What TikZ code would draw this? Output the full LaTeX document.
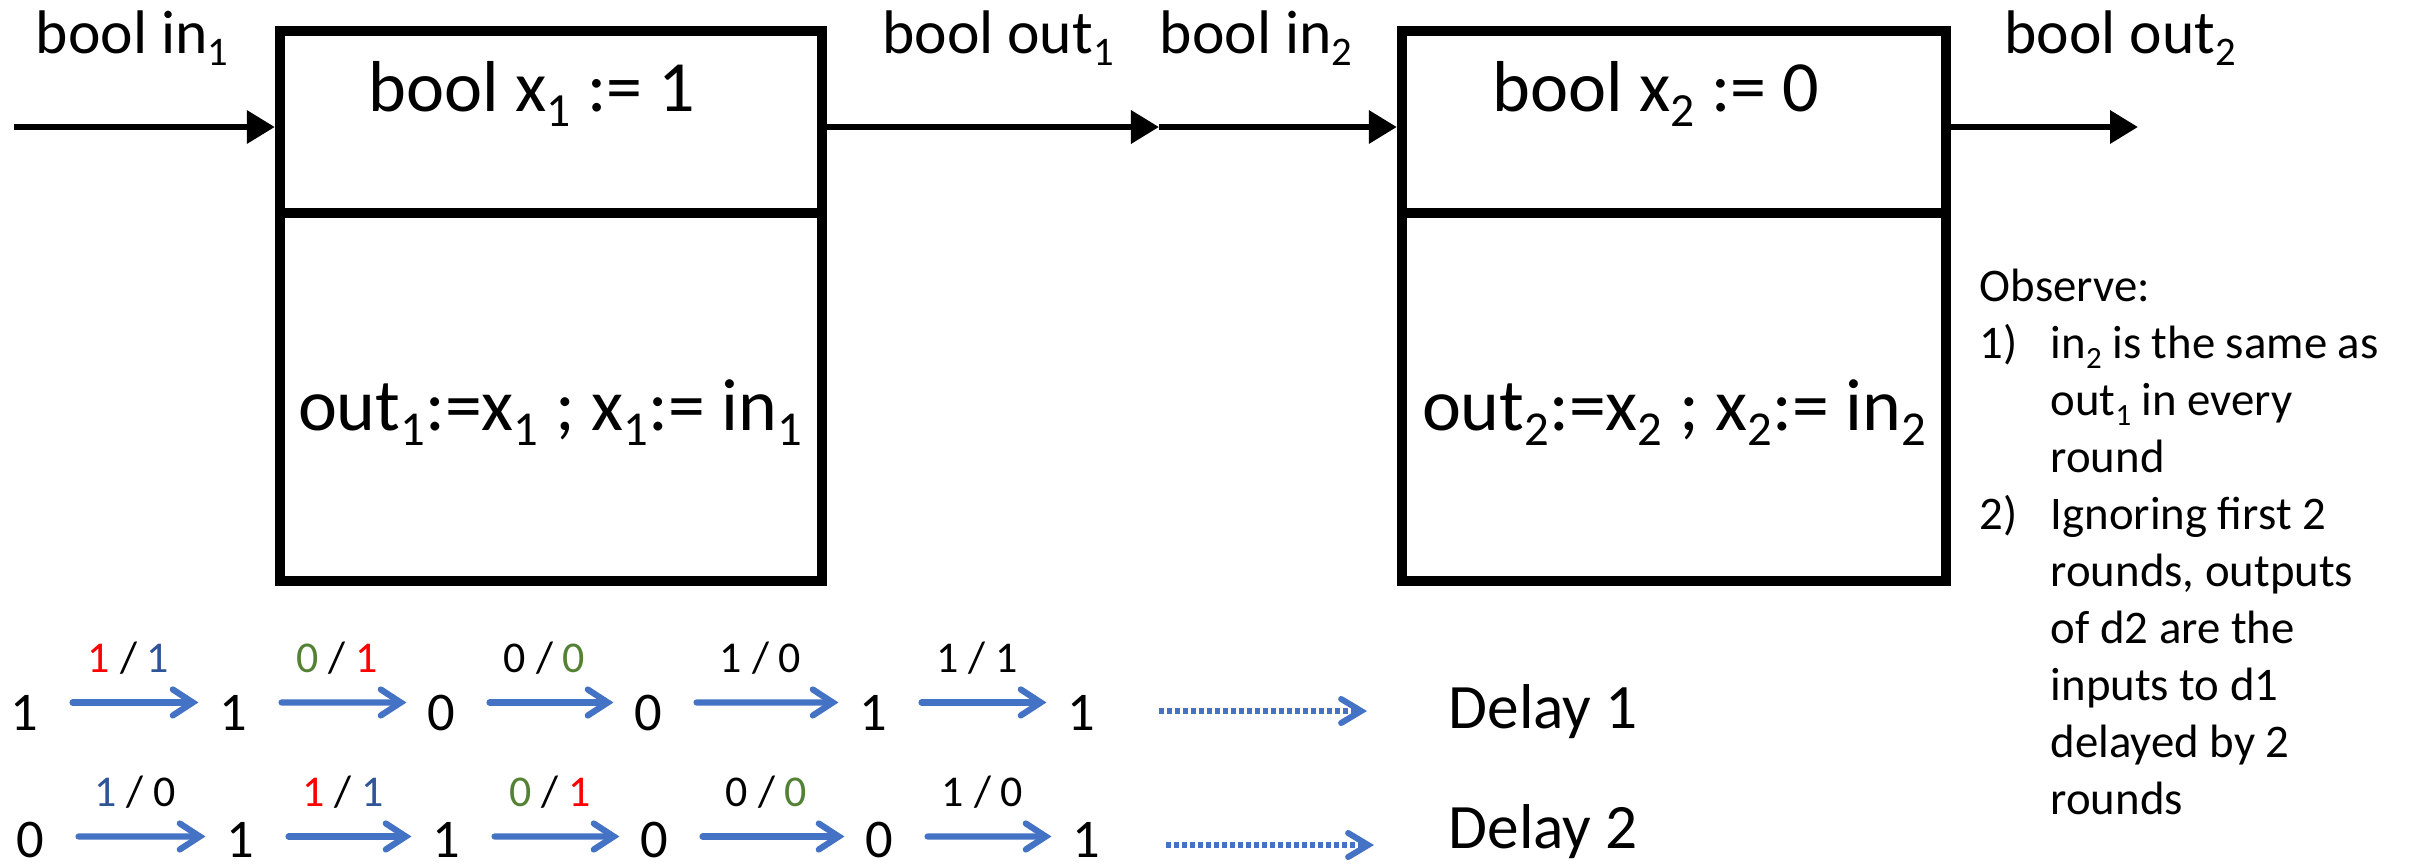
\documentclass[tikz,border=0pt]{standalone}
\usepackage{fontspec}
\setmainfont{Carlito}
\usepackage{graphicx}
\usepackage{tikz}
\usetikzlibrary{arrows.meta,positioning}
\definecolor{arrowblue}{HTML}{4472C4}
\definecolor{valblue}{HTML}{2F5597}
\definecolor{valgreen}{HTML}{548235}
\definecolor{valred}{HTML}{FF0000}
\newcommand{\ix}[1]{\raisebox{-0.21em}{\scalebox{0.66}{#1}}}
\newcommand{\itemno}[1]{\makebox[0.71cm][l]{#1}}
\newcommand{\hang}{\hspace*{0.71cm}}

\begin{document}
\begin{tikzpicture}[
  x=0.01cm, y=-0.01cm,
  every node/.style={inner sep=0pt},
  box/.style={draw, line width=0.1cm, minimum width=5.42cm},
  lbl/.style={anchor=base, font=\fontsize{17.5}{20}\selectfont},
  big/.style={anchor=base, font=\fontsize{20.5}{24}\selectfont},
  code/.style={anchor=base, font=\fontsize{21}{25}\selectfont},
  wire/.style={-{Triangle[length=0.28cm,width=0.32cm]}, line width=0.065cm},
  digit/.style={anchor=base, font=\fontsize{15.5}{18}\selectfont},
  stepline/.style={arrowblue, line width=0.062cm, line cap=round,
    -{Straight Barb[length=0.2cm,width=0.26cm,line cap=round]},
    shorten <=0.34cm, shorten >=0.2cm},
  steplbl/.style={midway, anchor=base, yshift=0.3cm, text=black,
    font=\fontsize{12.5}{15}\selectfont},
  dotarrow/.style={arrowblue, line width=0.06cm, dash pattern=on 0.05cm off 0.03cm,
    -{Straight Barb[length=0.2cm,width=0.24cm,line cap=round]}},
  delay/.style={anchor=base west, font=\fontsize{18}{22}\selectfont},
  note/.style={anchor=base west, align=left, font=\fontsize{13.3}{16.2}\selectfont}
]
\useasboundingbox (0,0) rectangle (2409,866);

\node[box, minimum height=1.82cm] (d1top) at (551,122) {};
\node[box, minimum height=3.68cm] (d1body) at (551,397) {};
\node[box, minimum height=1.82cm, minimum width=5.44cm] (d2top) at (1674,122) {};
\node[box, minimum height=3.68cm, minimum width=5.44cm] (d2body) at (1674,397) {};

\node[big] (x1init) at (532,111) {bool x\ix{1} := 1};
\node[code] (d1code) at (550,430) {out\ix{1}:=x\ix{1} ; x\ix{1}:= in\ix{1}};
\node[big] (x2init) at (1656,111) {bool x\ix{2} := 0};
\node[code] (d2code) at (1674,430) {out\ix{2}:=x\ix{2} ; x\ix{2}:= in\ix{2}};

\node[lbl] (in1lbl) at (132,53) {bool in\ix{1}};
\node[lbl] (out1lbl) at (998,53) {bool out\ix{1}};
\node[lbl] (in2lbl) at (1256,53) {bool in\ix{2}};
\node[lbl] (out2lbl) at (2120,53) {bool out\ix{2}};

\coordinate (src) at (14,127);
\coordinate (mid) at (1159,127);
\coordinate (sink) at (2138,127);
\draw[wire] (src) -- (src -| d1top.west);
\draw[wire] (d1top.east |- src) -- (mid);
\draw[wire] (mid) -- (mid -| d2top.west);
\draw[wire] (d2top.east |- src) -- (sink);

\node[note] (observe) at (1979,814) {Observe:\\
\itemno{1)}in\ix{2} is the same as\\
\hang out\ix{1} in every\\
\hang round\\
\itemno{2)}Ignoring first 2\\
\hang rounds, outputs\\
\hang of d2 are the\\
\hang inputs to d1\\
\hang delayed by 2\\
\hang rounds};

\node[digit] (a1) at (24,730) {1};
\node[digit] (a2) at (233,730) {1};
\node[digit] (a3) at (441,730) {0};
\node[digit] (a4) at (648,730) {0};
\node[digit] (a5) at (873,730) {1};
\node[digit] (a6) at (1081,730) {1};

\draw[stepline] ([yshift=0.1cm]a1.east) -- node[steplbl] {\textcolor{valred}{1} / \textcolor{valblue}{1}} ([yshift=0.1cm]a2.west);
\draw[stepline] ([yshift=0.1cm]a2.east) -- node[steplbl] {\textcolor{valgreen}{0} / \textcolor{valred}{1}} ([yshift=0.1cm]a3.west);
\draw[stepline] ([yshift=0.1cm]a3.east) -- node[steplbl] {0 / \textcolor{valgreen}{0}} ([yshift=0.1cm]a4.west);
\draw[stepline] ([yshift=0.1cm]a4.east) -- node[steplbl] {1 / 0} ([yshift=0.1cm]a5.west);
\draw[stepline] ([yshift=0.1cm]a5.east) -- node[steplbl] {1 / 1} ([yshift=0.1cm]a6.west);

\node[digit] (b1) at (30,857) {0};
\node[digit] (b2) at (240,857) {1};
\node[digit] (b3) at (446,857) {1};
\node[digit] (b4) at (654,857) {0};
\node[digit] (b5) at (879,857) {0};
\node[digit] (b6) at (1086,857) {1};

\draw[stepline] ([yshift=0.03cm]b1.east) -- node[steplbl] {\textcolor{valblue}{1} / 0} ([yshift=0.03cm]b2.west);
\draw[stepline] ([yshift=0.03cm]b2.east) -- node[steplbl] {\textcolor{valred}{1} / \textcolor{valblue}{1}} ([yshift=0.03cm]b3.west);
\draw[stepline] ([yshift=0.03cm]b3.east) -- node[steplbl] {\textcolor{valgreen}{0} / \textcolor{valred}{1}} ([yshift=0.03cm]b4.west);
\draw[stepline] ([yshift=0.03cm]b4.east) -- node[steplbl] {0 / \textcolor{valgreen}{0}} ([yshift=0.03cm]b5.west);
\draw[stepline] ([yshift=0.03cm]b5.east) -- node[steplbl] {1 / 0} ([yshift=0.03cm]b6.west);

\node[delay] (delay1) at (1448,728) {Delay 1};
\node[delay] (delay2) at (1448,848) {Delay 2};
\coordinate (dots1) at (1159,711);
\coordinate (dots2) at (1166,845);
\draw[dotarrow, shorten >=0.81cm] (dots1) -- (dots1 -| delay1.west);
\draw[dotarrow, shorten >=0.74cm] (dots2) -- (dots2 -| delay2.west);

\end{tikzpicture}
\end{document}
